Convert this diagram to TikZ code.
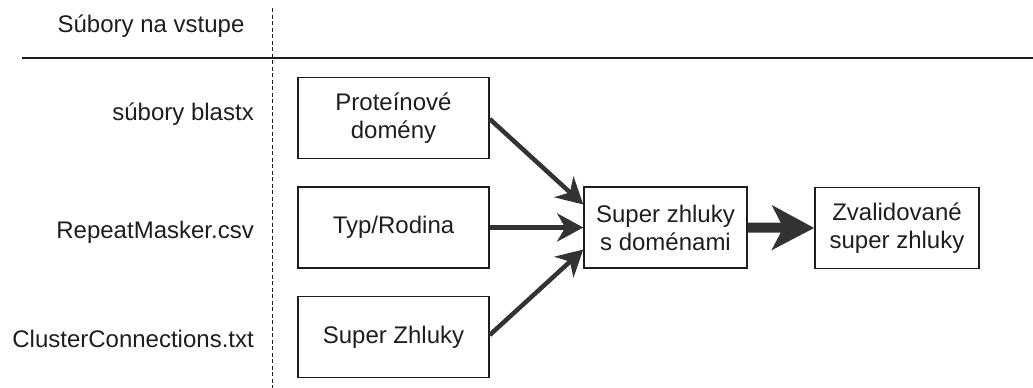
\documentclass[tikz,border=0pt]{standalone}
\usepackage{fontspec}
\setmainfont{Liberation Sans}
\usetikzlibrary{arrows.meta}
\definecolor{ink}{HTML}{1E1E1E}
\definecolor{arr}{HTML}{333333}
\tikzset{
  box/.style={draw=ink, line width=1.5pt, minimum width=191pt, minimum height=81pt, inner sep=0pt, align=center, text=ink},
  box2/.style={box, minimum width=163pt},
  lbl/.style={anchor=base east, inner sep=0pt, text=ink},
  conn/.style={draw=arr, line width=4.5pt, -{Stealth[length=26pt,width=28pt,inset=8pt]}},
  bigconn/.style={draw=arr, line width=10pt, -{Stealth[length=42pt,width=44pt,inset=11pt]}},
}
\begin{document}
\begin{tikzpicture}[x=1pt,y=-1pt, font=\fontsize{24}{28}\selectfont]
\useasboundingbox (0,0) rectangle (1033,388);
% header
\node[anchor=base, inner sep=0pt, text=ink] (hdr) at (151,32) {Súbory na vstupe};
\coordinate (hl1) at (22,58);
\coordinate (hl2) at (1033,58);
\draw[ink, line width=2pt] (hl1) -- (hl2);
\coordinate (dv1) at (272.5,8);
\coordinate (dv2) at (272.5,388);
\draw[ink, line width=1pt, dash pattern=on 4pt off 2.5pt] (dv1) -- (dv2);
% left labels
\node[lbl] (l1) at (254,120) {súbory blastx};
\node[lbl] (l2) at (254,238) {RepeatMasker.csv};
\node[lbl] (l3) at (254,347) {ClusterConnections.txt};
% boxes
\node[box] (b1) at (393.5,118) {Proteínové\\domény};
\node[box] (b2) at (393.5,227.5) {Typ/Rodina};
\node[box] (b3) at (393.5,337) {Super Zhluky};
\node[box2] (mid) at (665.5,227.5) {Super zhluky\\s doménami};
\node[box2, minimum width=164pt] (res) at (897,228) {Zvalidované\\super zhluky};
% arrows
\draw[conn] ([yshift=-1pt]b1.east) -- ([yshift=23pt]mid.west);
\draw[conn] (b2.east) -- (mid.west);
\draw[conn] ([yshift=2pt]b3.east) -- ([yshift=-22pt]mid.west);
\draw[bigconn] (mid.east) -- (res.west);
\end{tikzpicture}
\end{document}
